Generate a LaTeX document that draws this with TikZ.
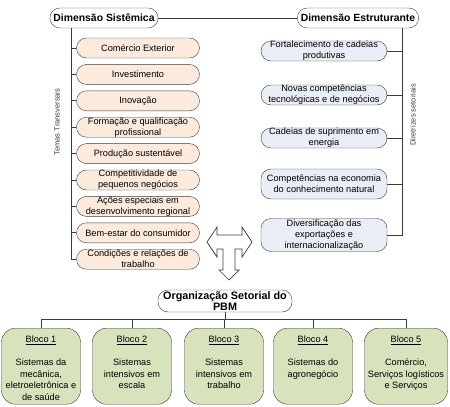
\documentclass[tikz,border=0pt]{standalone}
\usepackage{fontspec}
\setmainfont{Liberation Sans}
\usepackage{tikz}
\usetikzlibrary{positioning}

\definecolor{temafill}{RGB}{252,235,220}
\definecolor{diretfill}{RGB}{233,237,245}
\definecolor{blocofill}{RGB}{214,227,188}
\definecolor{linha}{RGB}{60,60,60}

\begin{document}
\begin{tikzpicture}[
  x=1pt, y=-1pt,
  dim/.style={draw=linha, fill=white, rounded corners=10pt,
              minimum height=20pt, inner xsep=3.5pt, inner ysep=0pt,
              font=\fontsize{10.4}{12}\selectfont\bfseries},
  tema/.style={draw=linha, fill=temafill, rounded corners=10pt,
               minimum width=123pt, minimum height=20pt, inner sep=0pt,
               align=center, font=\fontsize{9.2}{11}\selectfont},
  diret/.style={tema, fill=diretfill, minimum width=126pt},
  bloco/.style={draw=linha, fill=blocofill, rounded corners=14pt,
                minimum width=79pt, minimum height=76pt, anchor=north},
  blocotxt/.style={anchor=north, yshift=-8pt, inner sep=0pt, align=center,
                   font=\fontsize{9.2}{11.5}\selectfont},
  eixo/.style={rotate=90, text=linha, font=\fontsize{7.5}{9}\selectfont},
  liga/.style={draw=linha, line width=0.8pt}
]
  \useasboundingbox (0,0) rectangle (450,407);

  % Dimensions
  \node[dim] (dimsis) at (104,18) {Dimensão Sistêmica};
  \node[dim] (dimest) at (358,18) {Dimensão Estruturante};
  \draw[liga] (dimsis) -- (dimest);

  % Temas transversais
  \node[tema] (t1) at (138,48) {Comércio Exterior};
  \node[tema, below=6pt of t1] (t2) {Investimento};
  \node[tema, below=6pt of t2] (t3) {Inovação};
  \node[tema, below=6pt of t3] (t4) {Formação e qualificação\\profissional};
  \node[tema, below=6pt of t4] (t5) {Produção sustentável};
  \node[tema, below=6pt of t5] (t6) {Competitividade de\\pequenos negócios};
  \node[tema, below=6pt of t6] (t7) {Ações especiais em\\desenvolvimento regional};
  \node[tema, below=6pt of t7] (t8) {Bem-estar do consumidor};
  \node[tema, below=6pt of t8] (t9) {Condições e relações de\\trabalho};

  \coordinate (tronco) at (71,0);
  \foreach \t in {t1,t2,t3,t4,t5,t6,t7,t8,t9}
    \draw[liga] (tronco |- dimsis.south) |- (\t.west);
  \node[eixo] (temas) at (57,122) {Temas Transversais};

  % Diretrizes setoriais
  \node[diret] (d1) at (324,51) {Fortalecimento de cadeias\\produtivas};
  \node[diret] (d2) at (324,95) {Novas competências\\tecnológicas e de negócios};
  \node[diret] (d3) at (324,138) {Cadeias de suprimento em\\energia};
  \node[diret, minimum height=30pt] (d4) at (324,184)
    {Competências na economia\\do conhecimento natural};
  \node[diret, minimum height=33pt] (d5) at (324,235)
    {Diversificação das\\exportações e\\internacionalização};

  \coordinate (tronco2) at (402,0);
  \foreach \d in {d1,d2,d3,d4,d5}
    \draw[liga] (tronco2 |- dimest.south) |- (\d.east);
  \node[eixo] (diretr) at (413,115) {Diretrizes setoriais};

  % T arrow
  \draw[draw=linha, fill=white, line width=0.7pt]
    (207,242) -- (217,227) -- (217,235) -- (242,235) -- (242,227)
    -- (252,242) -- (242,257) -- (242,249) -- (235,249) -- (235,270)
    -- (239,270) -- (229,280) -- (219,270) -- (223,270) -- (223,249)
    -- (217,249) -- (217,257) -- cycle;

  % Organizacao setorial
  \node[dim, align=center, minimum width=134pt, minimum height=22pt,
        font=\fontsize{10.8}{11}\selectfont\bfseries] (org) at (225,301)
    {Organização Setorial do\\PBM};

  % Blocos
  \node[bloco] (b1) at (41,328) {};
  \node[bloco] (b2) at (132,328) {};
  \node[bloco] (b3) at (224,328) {};
  \node[bloco] (b4) at (313,328) {};
  \node[bloco, minimum width=83pt] (b5) at (406,328) {};

  \node[blocotxt] (b1txt) at (b1.north)
    {\underline{Bloco 1}\\[11.5pt]Sistemas da\\mecânica,\\eletroeletrônica e\\de saúde};
  \node[blocotxt] (b2txt) at (b2.north)
    {\underline{Bloco 2}\\[11.5pt]Sistemas\\intensivos em\\escala};
  \node[blocotxt] (b3txt) at (b3.north)
    {\underline{Bloco 3}\\[11.5pt]Sistemas\\intensivos em\\trabalho};
  \node[blocotxt] (b4txt) at (b4.north)
    {\underline{Bloco 4}\\[11.5pt]Sistemas do\\agronegócio};
  \node[blocotxt] (b5txt) at (b5.north)
    {\underline{Bloco 5}\\[11.5pt]Comércio,\\Serviços logísticos\\e Serviços};

  \draw[liga] (org.south) -- ++(0,7) coordinate (ramo);
  \foreach \b in {b1,b2,b3,b4,b5}
    \draw[liga] (ramo) -| (\b.north);
\end{tikzpicture}
\end{document}
